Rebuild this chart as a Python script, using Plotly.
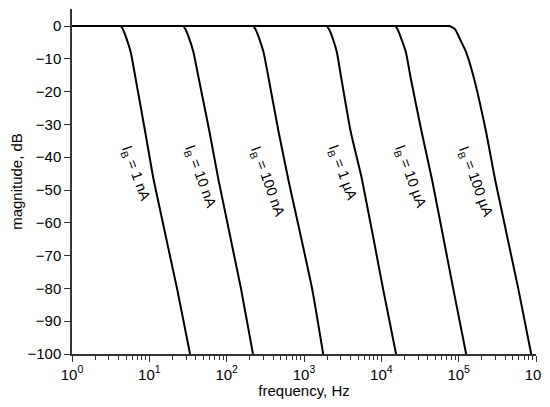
import plotly.graph_objects as go

# Bias currents (curve labels)
labels = ["I<sub>B</sub> = 1 nA", "I<sub>B</sub> = 10 nA", "I<sub>B</sub> = 100 nA",
          "I<sub>B</sub> = 1 µA", "I<sub>B</sub> = 10 µA", "I<sub>B</sub> = 100 µA"]

mag_db = [0, 0, 0, -1, -4, -8, -15, -32, -47, -80, -100]

# frequencies (Hz) at those levels, one list per curve
f_1nA   = [1, 4.1, 4.27, 4.55, 5.1, 5.75, 6.53, 8.8, 11.4, 22.8, 33.6]
f_10nA  = [1, 26.5, 27.5, 29.3, 33.0, 37.2, 42.7, 59.7, 78.5, 153, 219]
f_100nA = [1, 212, 220, 236, 265, 300, 343, 467, 630, 1270, 1770]
f_1uA   = [1, 1900, 1970, 2110, 2370, 2660, 2990, 4000, 5650, 10500, 15500]
f_10uA  = [1, 14600, 15100, 16200, 18200, 20800, 23600, 33000, 45400, 84900, 125000]
f_100uA = [1, 68000, 76000, 90100, 104000, 125000, 154000, 225000, 297000, 589000, 867000]
curves = [f_1nA, f_10nA, f_100nA, f_1uA, f_10uA, f_100uA]

# label positions (log10 frequency, dB)
label_x = [0.815, 1.656, 2.523, 3.493, 4.373, 5.213]
label_y = [-44.8, -46.0, -47.6, -44.8, -46.0, -47.6]

tick_vals = [1, 10, 100, 1000, 10000, 100000, 1000000]
tick_text = ["10<sup>0</sup>", "10<sup>1</sup>", "10<sup>2</sup>", "10<sup>3</sup>",
             "10<sup>4</sup>", "10<sup>5</sup>", "10<sup>6</sup>"]
y_ticks = [0, -10, -20, -30, -40, -50, -60, -70, -80, -90, -100]
y_text = ["0" if v == 0 else "\u2212" + str(-v) for v in y_ticks]

fig = go.Figure()
for f in curves:
    fig.add_trace(go.Scatter(x=f, y=mag_db, mode="lines",
                             line=dict(color="black", width=2, shape="spline", smoothing=0.5),
                             showlegend=False, hoverinfo="skip"))

for t, x, y in zip(labels, label_x, label_y):
    fig.add_annotation(x=x, y=y, text=t, showarrow=False, textangle=70,
                       font=dict(family="Liberation Sans, Arial", size=14.5, color="black"))

# the page body has an 8 px default margin; size the figure to fit inside the 550x407 window
fig.update_layout(
    width=534, height=391,
    margin=dict(l=64, r=6, t=1, b=45, autoexpand=False),
    paper_bgcolor="white", plot_bgcolor="white",
    font=dict(family="Liberation Sans, Arial", size=15, color="black"),
)
fig.update_xaxes(type="log", range=[0, 6], tickvals=tick_vals, ticktext=tick_text,
                 ticks="outside", ticklen=6, tickwidth=1.2, tickcolor="#333",
                 ticklabeloverflow="allow",
                 showline=True, linecolor="#333", linewidth=1.5, showgrid=False, zeroline=False,
                 minor=dict(ticks="outside", ticklen=4, tickwidth=1, tickcolor="#333", dtick="D1", showgrid=False),
                 title=dict(text="frequency, Hz", font=dict(size=15), standoff=3))
fig.update_yaxes(range=[-100, 5.2], tickvals=y_ticks, ticktext=y_text,
                 ticks="outside", ticklen=6, tickwidth=1.2, tickcolor="#333",
                 showline=True, linecolor="#333", linewidth=1.5, showgrid=False, zeroline=False,
                 title=dict(text="magnitude, dB", font=dict(size=15), standoff=2))

fig.write_html("out.html")
